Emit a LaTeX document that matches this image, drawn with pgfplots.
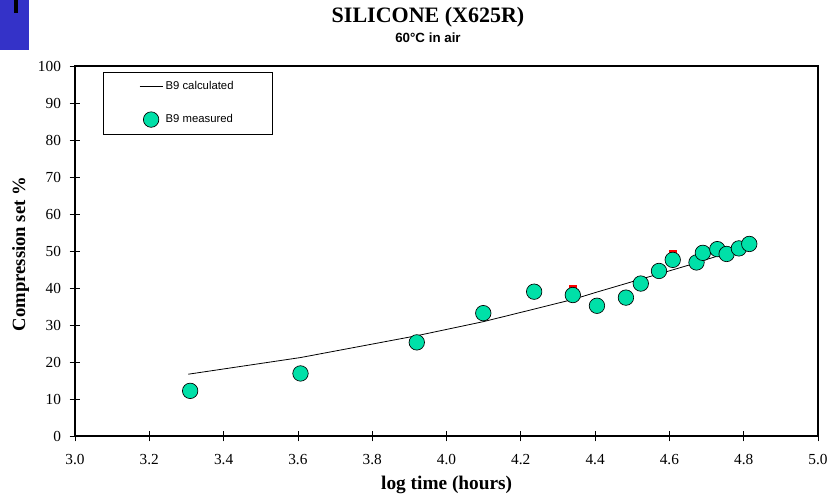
\documentclass[border=0pt]{standalone}
\usepackage{pgfplots}
\pgfplotsset{compat=1.18}
\usepackage{fontspec}
\setmainfont{Liberation Serif}
\newfontfamily\arialfont{Liberation Sans}
\definecolor{mint}{RGB}{0,224,168}
\definecolor{cornerblue}{RGB}{52,50,200}
\begin{document}
\begin{tikzpicture}
\useasboundingbox (0,0) rectangle (621.75pt,373.5pt);
\fill[cornerblue] (0,336pt) rectangle (21.75pt,373.5pt);
\fill[black] (10.5pt,364pt) rectangle (13.3pt,373.5pt);
\begin{axis}[
  scale only axis,
  width=557.25pt, height=277.5pt,
  at={(56.25pt,46.5pt)}, anchor=south west,
  xmin=3, xmax=5, ymin=0, ymax=100,
  xtick={3.0,3.2,...,5.0},
  ytick={0,10,...,100},
  xtick pos=bottom, ytick pos=left,
  xticklabel={\pgfmathprintnumber[fixed,fixed zerofill,precision=1]{\tick}},
  /pgf/number format/assume math mode=true,
  ticklabel style={font=\fontsize{11.5}{13}\selectfont},
  xticklabel style={yshift=-6pt},
  yticklabel style={xshift=-3pt},
  tick align=center,
  major tick length=8pt,
  tick style={black, line width=0.6pt},
  axis line style={line width=1.3pt},
  legend style={at={(rel axis cs:0.0377,0.984)}, anchor=north west,
    font=\arialfont\fontsize{8.5}{10}\selectfont,
    draw=black, line width=0.5pt, inner xsep=27pt, inner ysep=5pt,
    row sep=13pt, cells={anchor=west}},
  legend cell align=left,
]
\addplot[only marks, mark=square*, mark size=2.4pt, red, forget plot] coordinates {
(4.34,39.8) (4.609,49.3)
};
\addplot[black, line width=0.6pt, mark=none] coordinates {
(3.305,16.7) (3.607,21.2) (3.92,27.1) (4.099,30.9) (4.236,34.3) (4.34,36.9)
(4.405,38.9) (4.483,41.2) (4.523,42.4) (4.572,43.8) (4.609,44.9) (4.673,46.8)
(4.69,47.4) (4.729,48.6) (4.754,49.4) (4.787,50.4) (4.815,51.2)
};
\addlegendentry{B9 calculated}
\addplot[only marks, mark=*, mark size=5.8pt,
  mark options={fill=mint, draw=black, line width=0.5pt}] coordinates {
(3.31,12.2) (3.607,16.9) (3.92,25.3) (4.099,33.2) (4.236,39.0) (4.34,38.1)
(4.405,35.2) (4.483,37.4) (4.523,41.2) (4.572,44.6) (4.609,47.6) (4.673,46.9)
(4.69,49.5) (4.729,50.5) (4.754,49.2) (4.787,50.7) (4.815,51.9)
};
\addlegendentry{B9 measured}
\end{axis}
\node[font=\bfseries\fontsize{16.5}{19}\selectfont] at (321pt,360.5pt) {SILICONE (X625R)};
\node[font=\arialfont\bfseries\fontsize{10}{12}\selectfont] at (321pt,345pt) {60°C in air};
\node[font=\bfseries\fontsize{14.5}{17}\selectfont] at (335pt,9.5pt) {log time (hours)};
\node[font=\bfseries\fontsize{14}{16}\selectfont, rotate=90] at (15.5pt,183pt) {Compression set \%};
\end{tikzpicture}
\end{document}
